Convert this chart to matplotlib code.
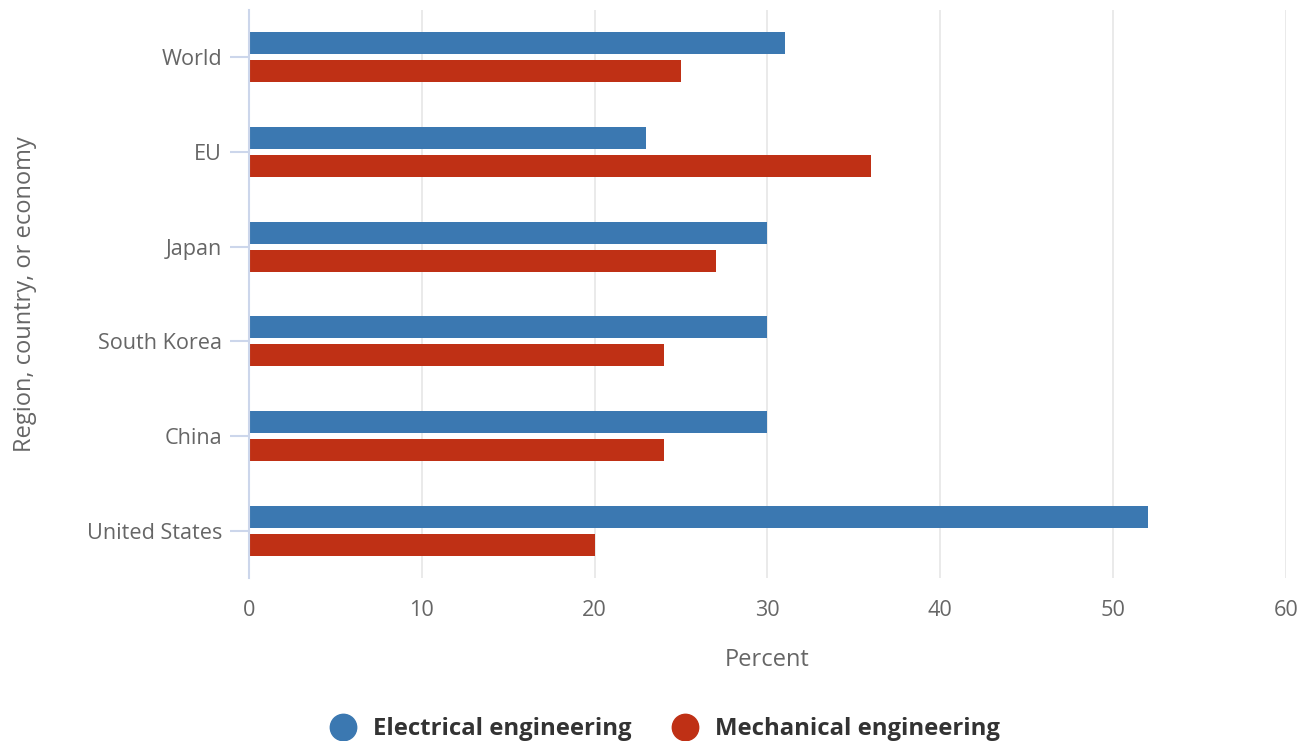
import numpy as np
import matplotlib
matplotlib.use("Agg")
import matplotlib.pyplot as plt
from matplotlib.lines import Line2D

plt.rcParams['font.family'] = ['Open Sans', 'DejaVu Sans']

# data
regions = ["World", "EU", "Japan", "South Korea", "China", "United States"]
electrical = [31, 23, 30, 30, 30, 52]
mechanical = [25, 36, 27, 24, 24, 20]

blue = "#3b78b1"
red = "#bf3015"
axis_col = "#ccd6eb"
text_col = "#666666"

fig = plt.figure(figsize=(13.09, 7.41), dpi=100)
ax = fig.add_axes([0.1902, 0.22, 0.7922, 0.7665])

y = np.arange(len(regions))
h = 0.232
off = 0.148
ax.barh(y - off, electrical, height=h, color=blue, zorder=3)
ax.barh(y + off, mechanical, height=h, color=red, zorder=3)

ax.set_ylim(len(regions) - 0.5, -0.5)
ax.set_xlim(0, 60)
ax.set_xticks(range(0, 61, 10))
ax.set_yticks(y)
ax.set_yticklabels(regions)

ax.grid(axis="x", color="#e6e6e6", linewidth=1.2, zorder=0)
for s in ["top", "right", "bottom"]:
    ax.spines[s].set_visible(False)
ax.spines["left"].set_color(axis_col)
ax.spines["left"].set_linewidth(1.5)
ax.spines["left"].set_zorder(4)

ax.tick_params(axis="y", length=13.5, width=1.5, color=axis_col, labelcolor=text_col,
               labelsize=15.6, pad=6)
ax.tick_params(axis="x", length=0, labelcolor=text_col, labelsize=15.6, pad=16)

ax.set_xlabel("Percent", color=text_col, fontsize=17, labelpad=19)
ax.set_ylabel("Region, country, or economy", color=text_col, fontsize=17, labelpad=36)

handles = [
    Line2D([], [], marker="o", linestyle="none", markersize=19, color=blue),
    Line2D([], [], marker="o", linestyle="none", markersize=19, color=red),
]
leg = fig.legend(handles, ["Electrical engineering", "Mechanical engineering"],
                 loc="center", bbox_to_anchor=(0.504, 0.016), ncol=2, frameon=False,
                 prop={"weight": "bold", "size": 17.2}, handletextpad=0.25,
                 columnspacing=1.24)
for t in leg.get_texts():
    t.set_color("#333333")

fig.savefig("out.png", dpi=100)
